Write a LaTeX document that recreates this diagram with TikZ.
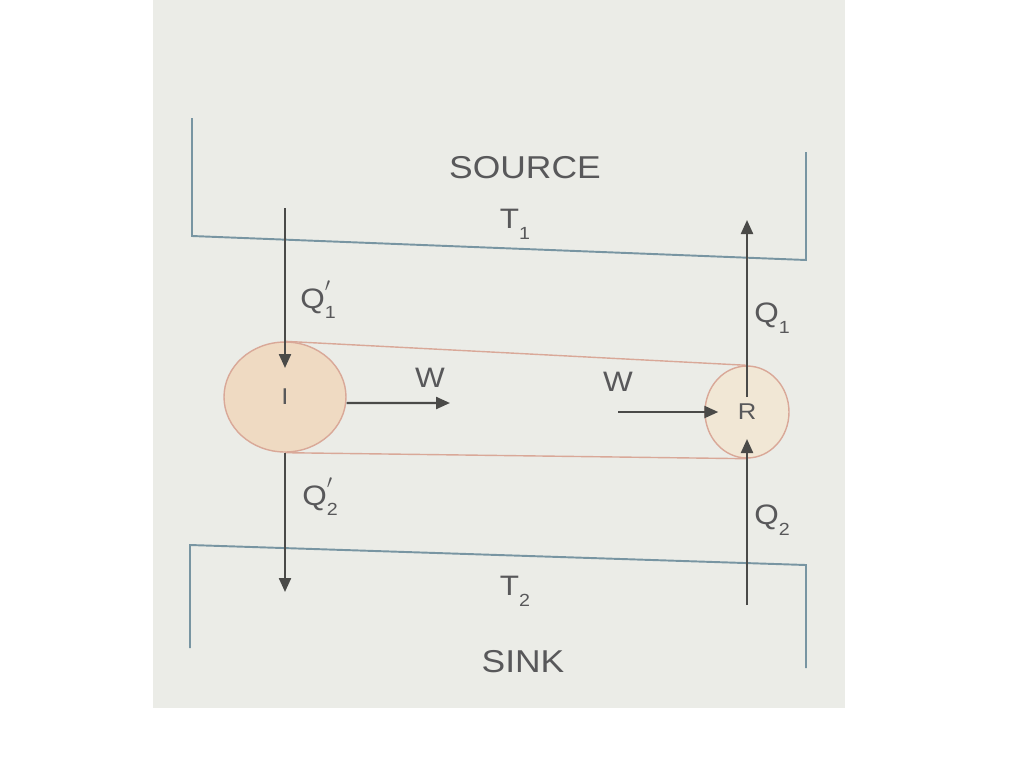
\documentclass[tikz,border=0pt]{standalone}
\usepackage{fontspec}
\setmainfont{Liberation Sans}
\newfontfamily\lblfont[FakeStretch=1.12]{Liberation Sans}
\usetikzlibrary{arrows.meta,shapes.geometric}
\definecolor{pagec}{HTML}{EBECE7}
\definecolor{boxline}{HTML}{7895A2}
\definecolor{bandline}{HTML}{D9A898}
\definecolor{enginefill}{HTML}{EFDAC2}
\definecolor{enginefillb}{HTML}{F1E7D5}
\definecolor{arrowc}{HTML}{4A4A48}
\definecolor{ink}{HTML}{58585A}
\newcommand{\subs}[1]{\raisebox{-0.38em}{\fontsize{10}{10}\selectfont #1}}
\newcommand{\prm}{\makebox[0pt][l]{\raisebox{0.25em}{\fontsize{15}{15}\selectfont$'$}}}
\begin{document}
\begin{tikzpicture}[x=0.02cm,y=-0.02cm,
  reservoir/.style={draw=boxline, line width=1.1pt},
  engine/.style={ellipse, draw=bandline, line width=0.8pt, fill=enginefill, inner sep=0pt, text=ink, font=\lblfont\fontsize{13}{15}\selectfont},
  band/.style={draw=bandline, line width=0.8pt},
  flow/.style={draw=arrowc, line width=1.3pt, -{Triangle[length=0.28cm,width=0.24cm]}},
  lbl/.style={text=ink, inner sep=0pt, font=\lblfont\fontsize{16}{18}\selectfont},
  big/.style={text=ink, inner sep=0pt, font=\lblfont\fontsize{18}{20}\selectfont}]
\useasboundingbox (0,0) rectangle (1024,768);
\fill[white] (0,0) rectangle (1024,768);
\fill[pagec] (153,0) rectangle (845,708);
% reservoirs
\draw[reservoir] (192,118) -- (192,236) -- (806,260) -- (806,152);
\draw[reservoir] (190,648) -- (190,545) -- (806,565) -- (806,668);
\node[big] (source) at (525,168) {SOURCE};
\node[lbl] (t1) at (515,224) {T\subs{1}};
\node[lbl] (t2) at (515,591) {T\subs{2}};
\node[big] (sink) at (523,662) {SINK};
% engines
\node[engine, minimum width=2.44cm, minimum height=2.2cm] (I) at (285,397) {I};
\node[engine, fill=enginefillb, minimum width=1.68cm, minimum height=1.84cm] (R) at (747,412) {R};
\draw[band] (I.north) -- (R.north);
\draw[band] (I.south) -- (R.south);
% flows
\coordinate (q1ps) at (285,208);
\coordinate (q2pe) at (285,592);
\coordinate (wle) at (450,403);
\coordinate (wrs) at (618,412);
\coordinate (q1e) at (747,220);
\coordinate (q2s) at (747,605);
\draw[flow, shorten >=0.58cm] (q1ps) -- (I.center);
\draw[flow] (I.south) -- (q2pe);
\draw[flow] ([yshift=-0.12cm]I.east) -- (wle);
\draw[flow] (wrs) -- ([xshift=0.28cm]R.west);
\draw[flow] ([yshift=0.3cm]R.center) -- (q1e);
\draw[flow, shorten >=0.54cm] (q2s) -- (R.center);
% labels
\node[lbl] (lq1p) at (318,300) {Q\prm\subs{1}};
\node[lbl] (lq2p) at (320,497) {Q\prm\subs{2}};
\node[lbl] (lq1) at (772,318) {Q\subs{1}};
\node[lbl] (lq2) at (772,520) {Q\subs{2}};
\node[lbl] (wl) at (430,378) {W};
\node[lbl] (wr) at (618,382) {W};
\end{tikzpicture}
\end{document}
